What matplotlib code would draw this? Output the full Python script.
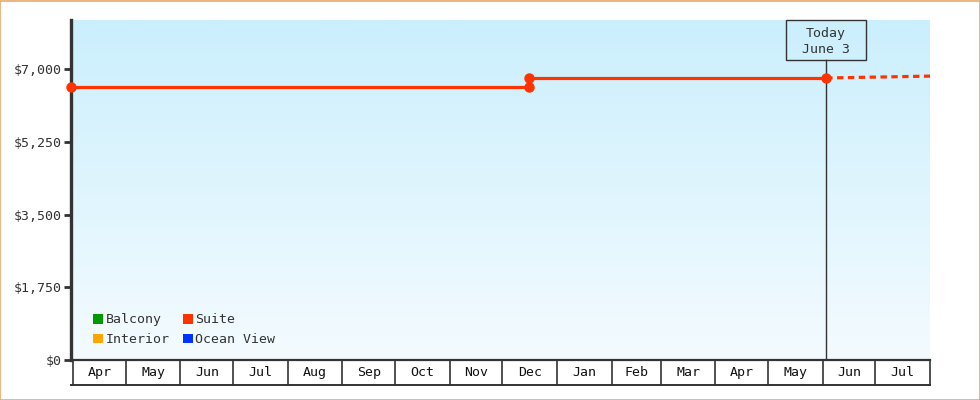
#!/usr/bin/env python3
"""Suite cabin price history with a 'today' marker and forecast."""

import datetime as dt
import numpy as np
import matplotlib
matplotlib.use('Agg')
import matplotlib.pyplot as plt
import matplotlib.dates as mdates
from matplotlib.patches import Rectangle, Patch
from matplotlib.transforms import blended_transform_factory

# data
suite_dates = ['2024-03-31', '2024-12-16', '2024-12-16', '2025-06-03']
suite_prices = [6570, 6570, 6785, 6785]
forecast_dates = ['2025-06-03', '2025-08-01']
forecast_prices = [6785, 6830]
month_starts = ['2024-04-01', '2024-05-01', '2024-06-01', '2024-07-01', '2024-08-01',
                '2024-09-01', '2024-10-01', '2024-11-01', '2024-12-01', '2025-01-01',
                '2025-02-01', '2025-03-01', '2025-04-01', '2025-05-01', '2025-06-01',
                '2025-07-01', '2025-08-01']
month_labels = ['Apr', 'May', 'Jun', 'Jul', 'Aug', 'Sep', 'Oct', 'Nov', 'Dec',
                'Jan', 'Feb', 'Mar', 'Apr', 'May', 'Jun', 'Jul']
y_ticks = [0, 1750, 3500, 5250, 7000]
today = '2025-06-03'
today_label = 'Today\nJune 3'
legend_names = ['Balcony', 'Interior', 'Suite', 'Ocean View']
legend_colors = ['#009900', '#ffa500', '#ff3300', '#0033ff']

DARK = '#333333'
FONT = 'DejaVu Sans Mono'


def to_num(ds):
    return [mdates.date2num(dt.datetime.strptime(d, '%Y-%m-%d')) for d in ds]


fig = plt.figure(figsize=(9.8, 4.0), dpi=100)
fig.patch.set_facecolor('white')
fig.patches.append(Rectangle((0.0005, 0.001), 0.999, 0.997, transform=fig.transFigure,
                             fill=False, edgecolor='#e9aa66', linewidth=1.2))

ax = fig.add_axes([71 / 980, 40 / 400, (930 - 71) / 980, 340 / 400])
ax.set_facecolor('white')

# vertical gradient background
grad = np.linspace(0, 1, 256).reshape(-1, 1)
top = np.array([203, 239, 253]) / 255
bot = np.array([244, 251, 255]) / 255
img = top + (bot - top) * grad[:, :, None] * np.ones((1, 1, 3))
ax.imshow(img.reshape(256, 1, 3), extent=[0, 1, 0, 1], transform=ax.transAxes,
          aspect='auto', zorder=0, interpolation='bilinear')

ms = to_num(month_starts)
ax.set_xlim(ms[0] - 1.2, ms[-1])
ax.set_ylim(0, 8180)

# series
sx = to_num(suite_dates)
fx = to_num(forecast_dates)
ax.plot(sx, suite_prices, color='#ff3300', lw=2.3, marker='o', ms=6.5,
        zorder=4, clip_on=False)
ax.plot(fx, forecast_prices, color='#ff3300', lw=2.3, linestyle=(0, (2.0, 1.4)),
        zorder=4, clip_on=False)

# today marker
tx = to_num([today])[0]
box_h = 40 / 340
blend = blended_transform_factory(ax.transData, ax.transAxes)
ax.plot([tx, tx], [0, 1 - box_h], transform=blend, color=DARK, lw=1.0, zorder=3)
days_per_px = (ms[-1] - ax.get_xlim()[0]) / (930 - 71)
bw = 80 * days_per_px
ax.add_patch(Rectangle((tx - bw / 2, 1 - box_h), bw, box_h, transform=blend,
                       facecolor='none', edgecolor=DARK, lw=1.0, zorder=5, clip_on=False))
ax.text(tx, 1 - box_h / 2 - 0.004, today_label, transform=blend, ha='center', va='center',
        fontsize=9.5, family=FONT, color=DARK, linespacing=1.35, zorder=6)

# y axis
ax.set_yticks(y_ticks)
ax.set_yticklabels([f'${v:,}' for v in y_ticks], family=FONT, fontsize=9.5, color=DARK)
ax.tick_params(axis='y', length=5, width=2, color=DARK, pad=2)
ax.set_xticks([])
for s in ['top', 'right']:
    ax.spines[s].set_visible(False)
ax.spines['left'].set_linewidth(2.4)
ax.spines['left'].set_color(DARK)
ax.spines['bottom'].set_linewidth(1.6)
ax.spines['bottom'].set_color(DARK)

# month row below the axis
row = 25 / 340
for m in ms:
    ax.plot([m, m], [0, -row], transform=blend, color=DARK, lw=1.2, clip_on=False)
ax.plot([ax.get_xlim()[0], ms[-1]], [-row, -row], transform=blend, color=DARK,
        lw=1.4, clip_on=False)
for a, b, lab in zip(ms[:-1], ms[1:], month_labels):
    ax.text((a + b) / 2, -row / 2, lab, transform=blend, ha='center', va='center',
            family=FONT, fontsize=9.5, color='#111111')

# legend
handles = [Patch(facecolor=c, edgecolor='none') for c in legend_colors]
leg = ax.legend(handles, legend_names, ncol=2, loc='lower left', frameon=False,
                bbox_to_anchor=(0.012, 0.006), handlelength=0.75, handleheight=0.75,
                handletextpad=0.2, columnspacing=1.0, labelspacing=0.5,
                prop={'family': FONT, 'size': 9.5})
for t in leg.get_texts():
    t.set_color(DARK)

fig.savefig('out.png', dpi=100)
